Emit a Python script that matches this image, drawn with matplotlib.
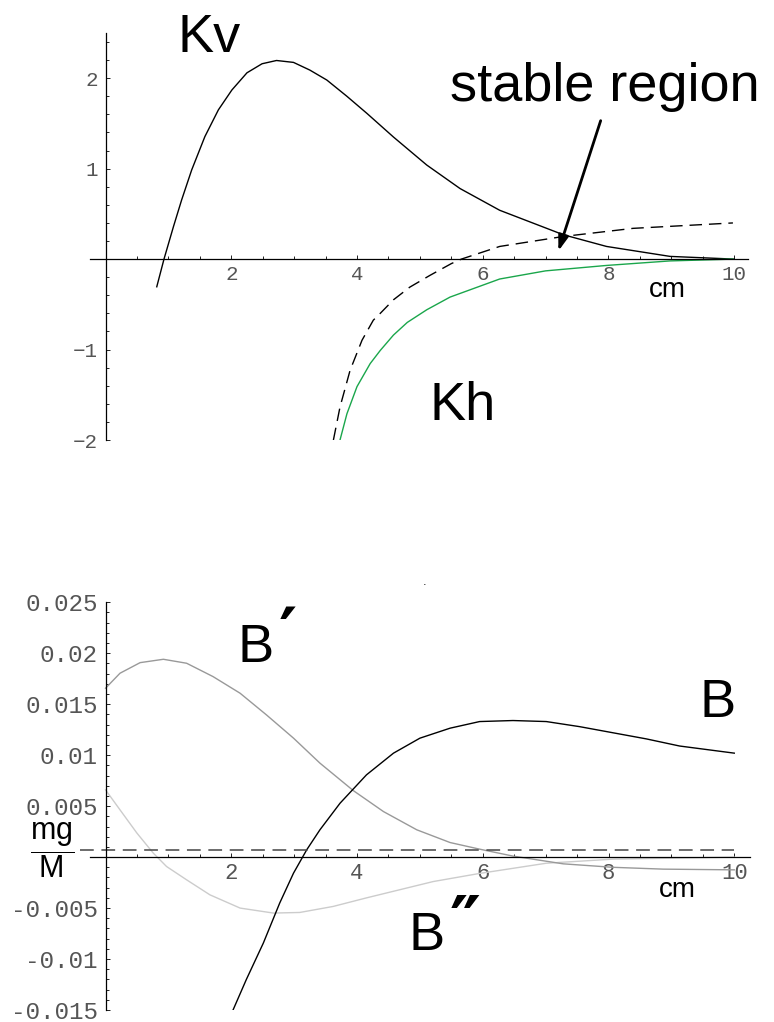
import matplotlib
matplotlib.use("Agg")
import matplotlib.pyplot as plt
from matplotlib.ticker import MultipleLocator

# stiffness curves (upper panel)
kv_x = [0.815, 0.93, 1.08, 1.21, 1.37, 1.58, 1.795, 2.01, 2.25, 2.49, 2.72, 2.99, 3.25, 3.52, 3.84, 4.16, 4.37,
        4.58, 5.11, 5.64, 6.27, 7.28, 7.97, 8.98, 10.0]
kv_y = [-0.306, 0.0, 0.358, 0.653, 0.985, 1.354, 1.65, 1.87, 2.06, 2.16, 2.196, 2.175, 2.09, 1.98, 1.80, 1.61, 1.48,
        1.35, 1.04, 0.78, 0.54, 0.27, 0.14, 0.03, 0.0]

kh_x = [3.73, 3.84, 4.0, 4.21, 4.37, 4.58, 4.8, 5.11, 5.48, 6.27, 7.0, 7.97, 8.98, 9.98]
kh_y = [-2.0, -1.71, -1.41, -1.155, -1.01, -0.84, -0.70, -0.56, -0.42, -0.22, -0.13, -0.07, -0.02, 0.0]

khd_x = [3.625, 3.73, 3.89, 4.08, 4.26, 4.37, 4.58, 4.84, 5.16, 5.50, 5.66, 6.27, 7.28, 8.39, 9.98]
khd_y = [-2.0, -1.635, -1.23, -0.897, -0.675, -0.60, -0.45, -0.31, -0.18, -0.05, 0.0, 0.14, 0.25, 0.34, 0.40]

# field and derivatives (lower panel)
b_x = [2.03, 2.24, 2.51, 2.77, 2.99, 3.20, 3.41, 3.73, 4.15, 4.58, 5.0, 5.48, 5.95, 6.48, 7.01, 7.54, 8.07, 8.60,
       9.13, 10.0]
b_y = [-0.01497, -0.0120, -0.00843, -0.00451, -0.00157, 0.00072, 0.00268, 0.00529, 0.00807, 0.0102, 0.01167,
       0.01265, 0.0133, 0.0134, 0.0133, 0.0128, 0.0122, 0.0116, 0.0109, 0.0102]

bp_x = [0.0, 0.23, 0.55, 0.92, 1.29, 1.71, 2.14, 2.56, 2.99, 3.41, 3.94, 4.42, 4.95, 5.48, 5.95, 6.48, 7.28, 8.07,
        8.87, 10.0]
bp_y = [0.01657, 0.01804, 0.01908, 0.01941, 0.01902, 0.01771, 0.01608, 0.01395, 0.01167, 0.00922, 0.00653, 0.00447,
        0.00268, 0.00143, 0.00078, 0.0001, -0.00066, -0.001, -0.00118, -0.00125]

bpp_x = [0.0, 0.23, 0.50, 0.76, 0.97, 1.29, 1.66, 2.14, 2.67, 3.09, 3.62, 4.15, 4.68, 5.21, 5.95, 7.01, 8.07, 10.0]
bpp_y = [0.0066, 0.00464, 0.00235, 0.00039, -0.00092, -0.00223, -0.0037, -0.0050, -0.00549, -0.00543, -0.00484,
         -0.0040, -0.0032, -0.0024, -0.0016, -0.0006, -0.0002, 0.0]

mg_over_M = 0.00072

x_ticks = [2, 4, 6, 8, 10]
top_yticks = [-2, -1, 1, 2]
top_ylabels = ["\u22122", "\u22121", "1", "2"]
bot_yticks = [-0.015, -0.01, -0.005, 0.005, 0.01, 0.015, 0.02, 0.025]
bot_ylabels = ["-0.015", "-0.01", "-0.005", "0.005", "0.01", "0.015", "0.02", "0.025"]

W, H = 774, 1022
sans = "Liberation Sans"
mono = "Liberation Mono"
plt.rcParams["mathtext.fontset"] = "custom"
plt.rcParams["mathtext.rm"] = sans

fig = plt.figure(figsize=(W / 100, H / 100), dpi=100)


def px(x, y):
    return x / W, 1 - y / H


def style_axes(ax, xlab_size, ylab_size):
    for s in ["top", "right"]:
        ax.spines[s].set_visible(False)
    ax.spines["left"].set_position(("data", 0))
    ax.spines["bottom"].set_position(("data", 0))
    ax.spines["left"].set_linewidth(0.9)
    ax.spines["bottom"].set_linewidth(0.9)
    ax.xaxis.set_minor_locator(MultipleLocator(0.5))
    ax.tick_params(which="both", direction="in", color="#222222", width=0.7)
    ax.tick_params(which="major", length=3.2)
    ax.tick_params(which="minor", length=2.2)
    ax.tick_params(axis="x", labelsize=xlab_size, labelcolor="#555555", pad=4)
    ax.tick_params(axis="y", labelsize=ylab_size, labelcolor="#555555", pad=5.5)
    for lab in ax.get_xticklabels() + ax.get_yticklabels():
        lab.set_fontfamily(mono)
    ax.patch.set_visible(False)


# ---- upper panel ----
ax1 = fig.add_axes([90 / W, 1 - 440 / H, 658 / W, 407 / H])
ax1.plot(kv_x, kv_y, color="black", lw=1.0)
ax1.plot(khd_x, khd_y, color="black", lw=1.0, dashes=(9, 5))
ax1.plot(kh_x, kh_y, color="#1aa64b", lw=1.0)
ax1.set_xlim(-0.247, 10.22)
ax1.set_ylim(-2, 2.5)
ax1.set_xticks(x_ticks)
ax1.set_xticklabels([str(t) for t in x_ticks])
ax1.set_yticks(top_yticks)
ax1.set_yticklabels(top_ylabels)
ax1.yaxis.set_minor_locator(MultipleLocator(0.2))
style_axes(ax1, 15, 15)

ax1.annotate("", xy=(7.19, 0.06), xytext=(7.89, 1.56),
             arrowprops=dict(arrowstyle="-|>,head_length=0.9,head_width=0.3",
                             color="black", lw=2))

fig.text(*px(178, 52), "Kv", fontsize=39, family=sans)
fig.text(*px(430, 420), "Kh", fontsize=39, family=sans)
fig.text(*px(450, 101), "stable region", fontsize=39, family=sans)
fig.text(*px(649, 297), "cm", fontsize=20, family=sans)

# ---- lower panel ----
ax2 = fig.add_axes([90 / W, 1 - 1010 / H, 660 / W, 407.7 / H])
ax2.plot(bpp_x, bpp_y, color="#cccccc", lw=1.0)
ax2.plot(bp_x, bp_y, color="#999999", lw=1.0)
ax2.plot(b_x, b_y, color="black", lw=1.0)
ax2.plot([-0.405, 10.0], [mg_over_M, mg_over_M], color="#444444", lw=1.1,
         dashes=(9, 5), clip_on=False)
ax2.set_xlim(-0.247, 10.25)
ax2.set_ylim(-0.015, 0.025)
ax2.set_xticks(x_ticks)
ax2.set_xticklabels([str(t) for t in x_ticks])
ax2.set_yticks(bot_yticks)
ax2.set_yticklabels(bot_ylabels)
ax2.yaxis.set_minor_locator(MultipleLocator(0.001))
style_axes(ax2, 16, 17.5)

fig.text(*px(237, 662), "B", fontsize=39, family=sans)
fig.text(*px(279, 657), "\u2032", fontsize=50, family="DejaVu Sans", weight="bold")
fig.text(*px(700, 717), "B", fontsize=39, family=sans)
fig.text(*px(408, 950), "B", fontsize=39, family=sans)
fig.text(*px(450, 946), "\u2033", fontsize=50, family="DejaVu Sans", weight="bold")
fig.text(*px(659, 897), "cm", fontsize=20, family=sans)
fig.text(*px(52, 850), r"$\dfrac{\mathrm{mg}}{\mathrm{M}}$", fontsize=22,
         ha="center", va="center")
fig.text(*px(425, 585), ".", fontsize=8, ha="center")

fig.savefig("out.png", dpi=100)
